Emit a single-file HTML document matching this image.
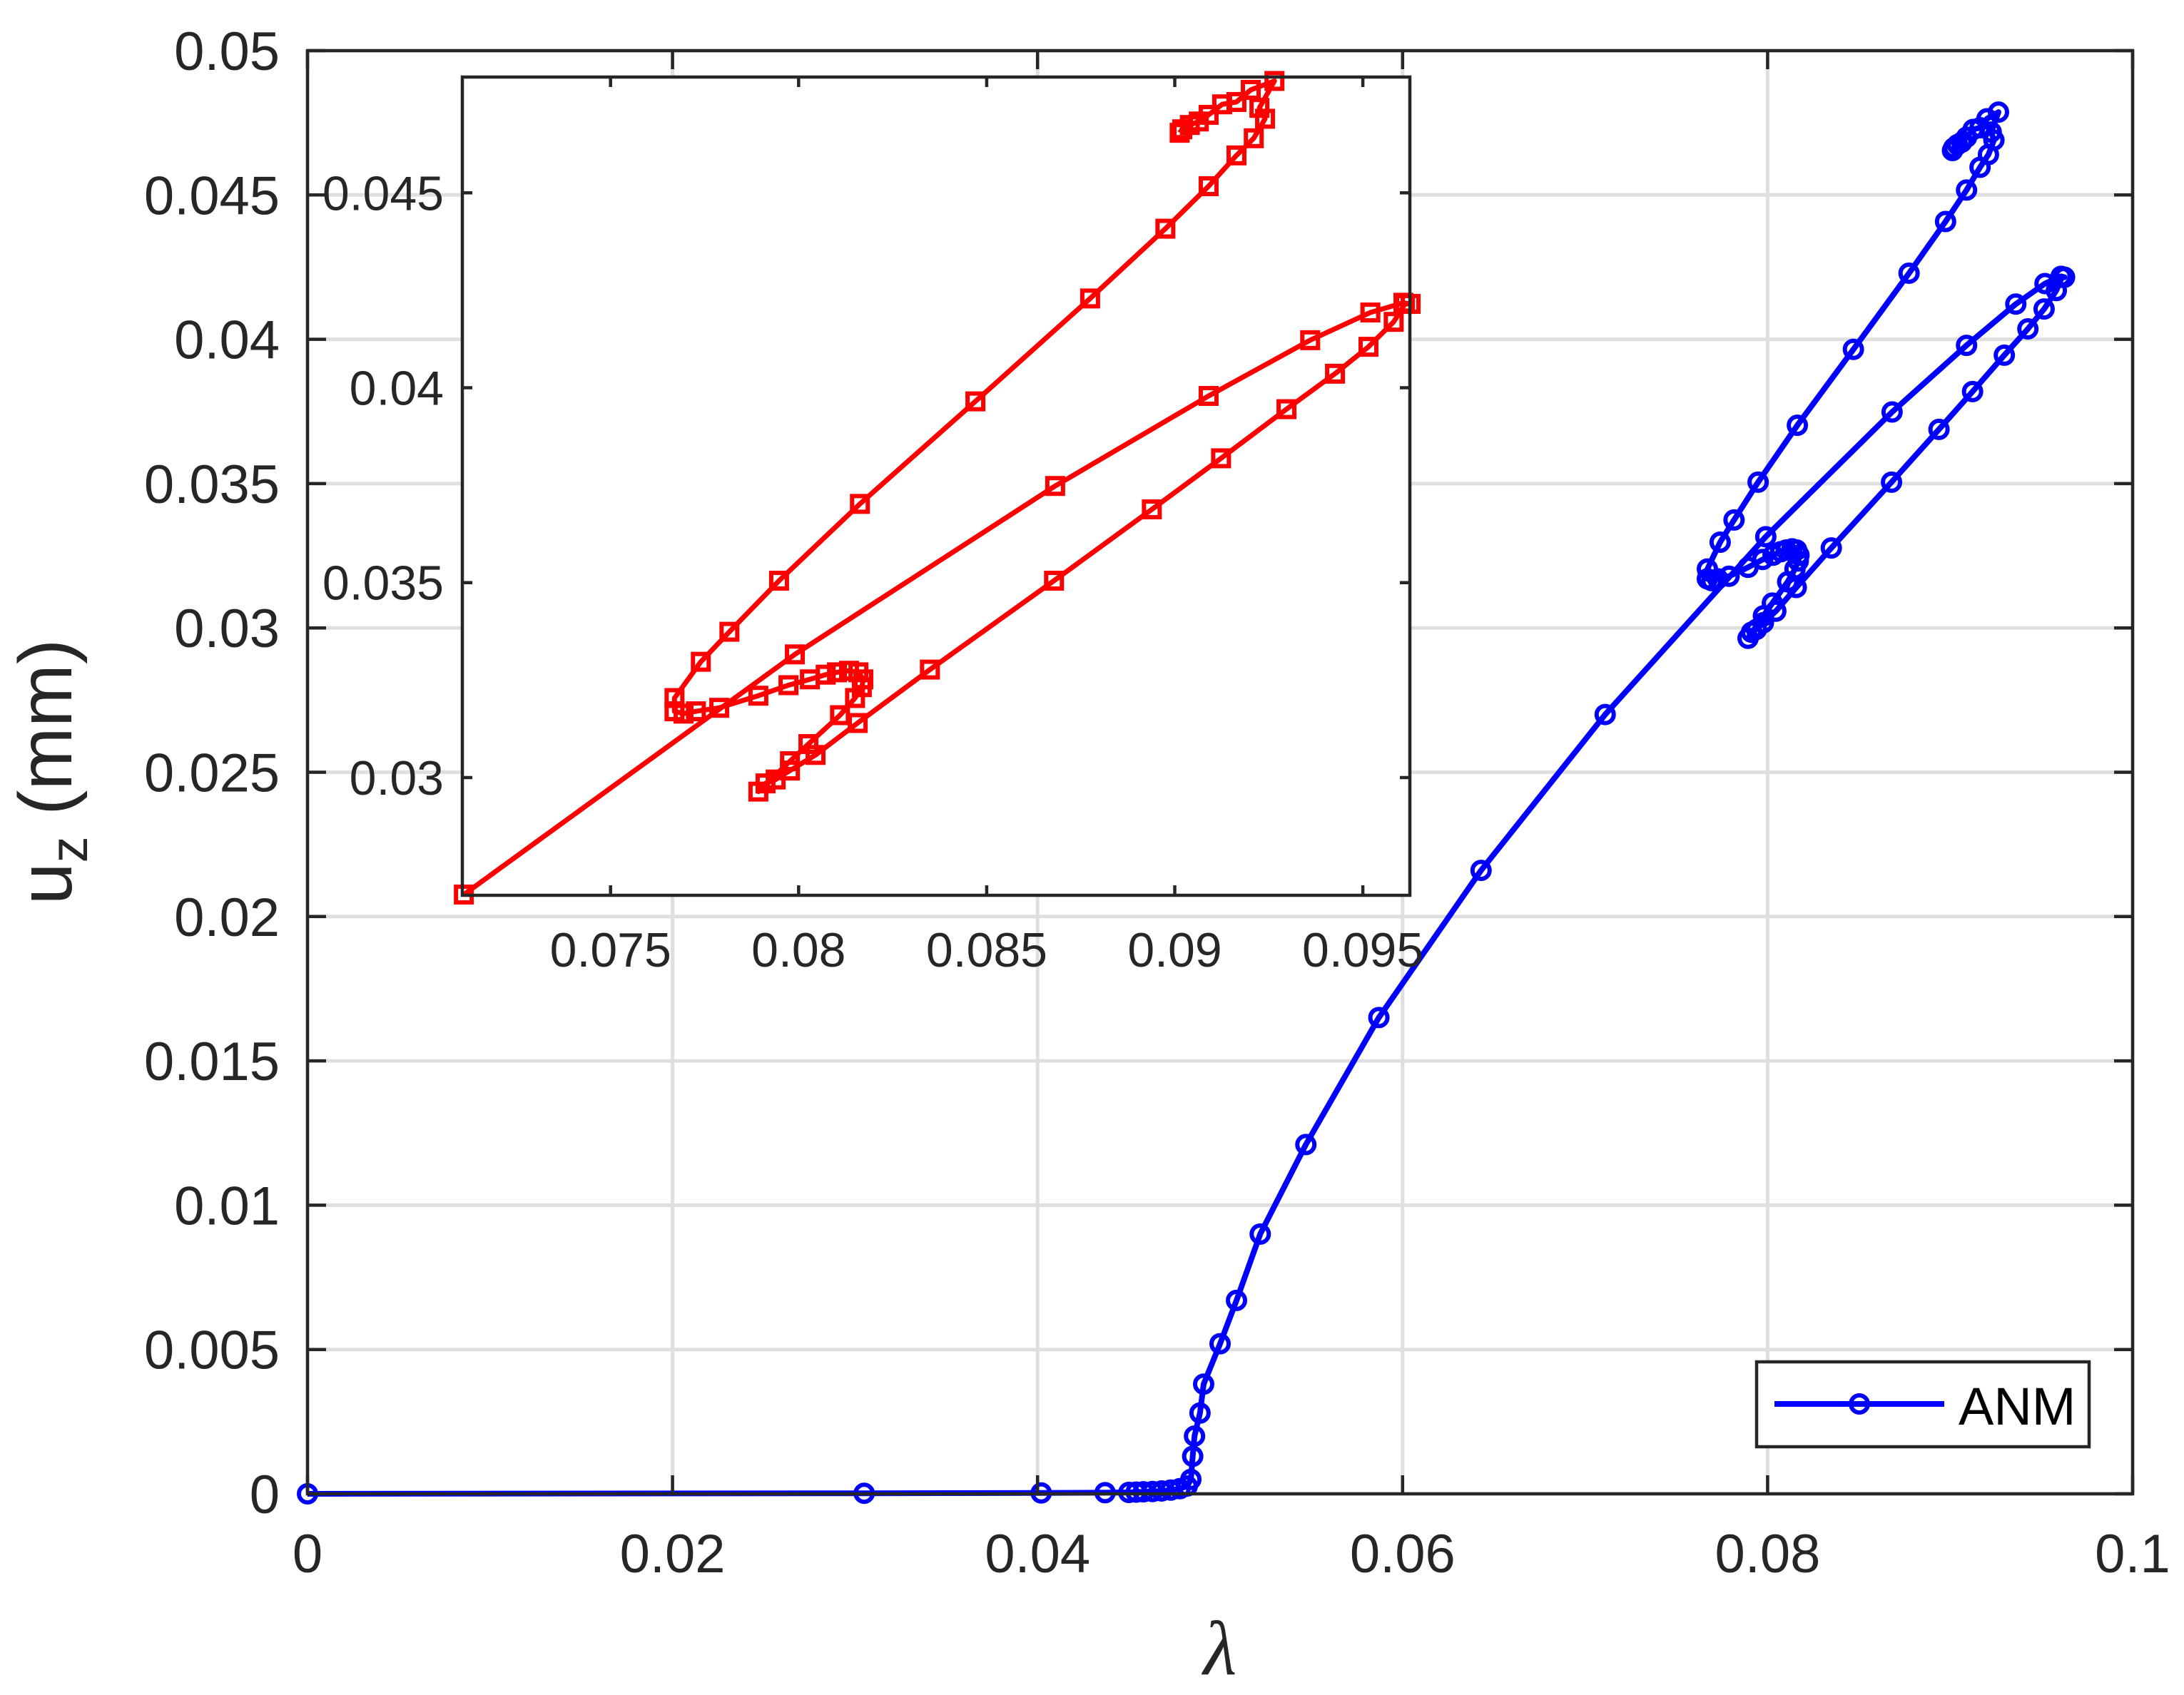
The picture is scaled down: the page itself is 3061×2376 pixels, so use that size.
<!DOCTYPE html>
<html><head><meta charset="utf-8"><style>
html,body{margin:0;padding:0;background:#fff}
svg{display:block}
text{font-family:"Liberation Sans",sans-serif;fill:#262626}
</style></head><body>
<svg id="chart" width="3061" height="2376" viewBox="0 0 3061 2376" xmlns="http://www.w3.org/2000/svg">
<rect width="3061" height="2376" fill="#fff"/>
<g id="main-grid"></g>
<g id="main-series"></g>
<g id="main-axes"></g>
<g id="inset"></g>
<g id="legend">
<rect x="2462" y="1909" width="466" height="119" fill="#fff" stroke="#262626" stroke-width="4.5"/>
<line x1="2487" y1="1968" x2="2725" y2="1968" stroke="#0000ff" stroke-width="8"/>
<circle cx="2606" cy="1968" r="12" fill="none" stroke="#0000ff" stroke-width="6"/>
<text x="2745" y="1997" font-size="74" style="fill:#000">ANM</text>
</g>
<text x="1710" y="2347" font-size="108" text-anchor="middle" style="font-family:'Liberation Serif',serif;font-style:italic">λ</text>
<text transform="translate(100,1082) rotate(-90)" font-size="106" text-anchor="middle">u<tspan font-size="74" dy="22">z</tspan><tspan dy="-22"> (mm)</tspan></text>
</svg>
<script>
const lambda=[0,0.0305,0.0402,0.0437,0.0450,0.0454,0.0458,0.0463,0.0468,0.0473,0.0478,0.0482,0.0484,0.0485,0.0486,0.0489,0.0491,0.0500,0.0509,0.0522,0.0547,0.0587,0.0643,0.0711,
0.0799,0.08682,0.0909,0.0936,0.0952,0.09608,0.09627,0.09612,0.09582,0.09515,0.09426,0.09297,0.09123,0.08939,0.08679,0.08349,0.08157,0.08045,0.07977,0.07939,0.07912,0.07893,
0.07977,0.08026,0.0811,0.0815,0.08168,0.08172,0.08159,0.08134,0.08102,0.08072,0.0803,0.07973,0.07893,0.07789,0.07727,0.07694,0.0767,0.0767,0.0774,0.07816,0.07948,0.08163,0.0847,0.08775,0.08975,0.0909,0.09164,0.0921,0.0924,0.09225,0.09265,0.09202,0.09164,0.09126,0.0909,0.09064,0.0904,0.0902,0.09013];
const uz=[0,0.00002,0.00003,0.00004,0.00005,0.00006,0.00007,0.00008,0.0001,0.00013,0.00018,0.00027,0.0005,0.0013,0.0020,0.0028,0.0038,0.0052,0.0067,0.0090,0.0121,0.0165,0.0216,0.0270,
0.03316,0.03748,0.03979,0.04122,0.04193,0.04218,0.04215,0.04215,0.04169,0.04105,0.04036,0.03945,0.03819,0.03688,0.03505,0.03277,0.0314,0.03058,0.03018,0.02995,0.02985,0.02964,
0.03042,0.03086,0.0316,0.03204,0.03232,0.03252,0.0327,0.03274,0.0327,0.03264,0.03252,0.03237,0.0321,0.03179,0.0317,0.03164,0.0317,0.03204,0.03297,0.03374,0.03505,0.03702,0.03965,0.04229,0.04408,0.04517,0.04596,0.0464,0.0469,0.04718,0.04787,0.04764,0.04733,0.04727,0.0470,0.04683,0.04674,0.04663,0.04654];
const xTicks=[0,0.02,0.04,0.06,0.08,0.1];
const xTickLabels=["0","0.02","0.04","0.06","0.08","0.1"];
const yTicks=[0,0.005,0.01,0.015,0.02,0.025,0.03,0.035,0.04,0.045,0.05];
const yTickLabels=["0","0.005","0.01","0.015","0.02","0.025","0.03","0.035","0.04","0.045","0.05"];
const insetXTicks=[0.075,0.08,0.085,0.09,0.095];
const insetXTickLabels=["0.075","0.08","0.085","0.09","0.095"];
const insetYTicks=[0.03,0.035,0.04,0.045];
const insetYTickLabels=["0.03","0.035","0.04","0.045"];
const insetLambdaMin=0.0710;

const NS="http://www.w3.org/2000/svg";
function mk(tag,attrs,parent){const e=document.createElementNS(NS,tag);for(const k in attrs)e.setAttribute(k,attrs[k]);parent.appendChild(e);return e;}
const L=431,R=2989,T=71,B=2094;
const X=v=>L+(v-0)/(0.1)*(R-L);
const Y=v=>B-(v-0)/(0.05)*(B-T);
const grid=document.getElementById('main-grid');
xTicks.forEach((t,i)=>{const g=mk('line',{x1:X(t),x2:X(t),y1:T,y2:B,stroke:'#dfdfdf','stroke-width':5},grid);

});
yTicks.forEach((t,i)=>{const g=mk('line',{x1:L,x2:R,y1:Y(t),y2:Y(t),stroke:'#dfdfdf','stroke-width':5},grid);

});
const ser=document.getElementById('main-series');
const pts=lambda.map((v,i)=>X(v)+','+Y(uz[i])).join(' ');
const pl=mk('polyline',{points:pts,fill:'none',stroke:'#0000ff','stroke-width':8,'stroke-linejoin':'round'},ser);


lambda.forEach((v,i)=>{const c=mk('circle',{cx:X(v),cy:Y(uz[i]),r:12,fill:'none',stroke:'#0000ff','stroke-width':6},ser);

});
const ax=document.getElementById('main-axes');
const box=mk('rect',{x:L,y:T,width:R-L,height:B-T,fill:'none',stroke:'#262626','stroke-width':4.5},ax);


xTicks.forEach((t,i)=>{
mk('line',{x1:X(t),x2:X(t),y1:B,y2:B-26,stroke:'#262626','stroke-width':4.5},ax);
mk('line',{x1:X(t),x2:X(t),y1:T,y2:T+26,stroke:'#262626','stroke-width':4.5},ax);
const tx=mk('text',{x:X(t),y:B+110,'font-size':76,'text-anchor':'middle'},ax);
tx.textContent=xTickLabels[i];

});
yTicks.forEach((t,i)=>{
mk('line',{x1:L,x2:L+26,y1:Y(t),y2:Y(t),stroke:'#262626','stroke-width':4.5},ax);
mk('line',{x1:R,x2:R-26,y1:Y(t),y2:Y(t),stroke:'#262626','stroke-width':4.5},ax);
const tx=mk('text',{x:392,y:Y(t)+27,'font-size':76,'text-anchor':'end'},ax);
tx.textContent=yTickLabels[i];

});
const iL=648,iR=1976,iT=108,iB=1255;
const ix0=0.07106,ix1=0.09625,iy0=0.02698,iy1=0.04797;
const IX=v=>iL+(v-ix0)/(ix1-ix0)*(iR-iL);
const IY=v=>iB-(v-iy0)/(iy1-iy0)*(iB-iT);
const ins=document.getElementById('inset');
const ibg=mk('rect',{x:iL,y:iT,width:iR-iL,height:iB-iT,fill:'#fff'},ins);


const idx=lambda.map((v,i)=>i).filter(i=>lambda[i]>=insetLambdaMin);
const ipl=mk('polyline',{points:idx.map(i=>IX(lambda[i])+','+IY(uz[i])).join(' '),fill:'none',stroke:'#ff0000','stroke-width':7,'stroke-linejoin':'round'},ins);


idx.forEach(i=>{const s=mk('rect',{x:IX(lambda[i])-11,y:IY(uz[i])-11,width:22,height:22,fill:'none',stroke:'#ff0000','stroke-width':6},ins);

});
const ibox=mk('rect',{x:iL,y:iT,width:iR-iL,height:iB-iT,fill:'none',stroke:'#262626','stroke-width':4.5},ins);


insetXTicks.forEach((t,i)=>{
mk('line',{x1:IX(t),x2:IX(t),y1:iB,y2:iB-14,stroke:'#262626','stroke-width':4.5},ins);
mk('line',{x1:IX(t),x2:IX(t),y1:iT,y2:iT+14,stroke:'#262626','stroke-width':4.5},ins);
const tx=mk('text',{x:IX(t),y:iB+100,'font-size':68,'text-anchor':'middle'},ins);
tx.textContent=insetXTickLabels[i];

});
insetYTicks.forEach((t,i)=>{
mk('line',{x1:iL,x2:iL+14,y1:IY(t),y2:IY(t),stroke:'#262626','stroke-width':4.5},ins);
mk('line',{x1:iR,x2:iR-14,y1:IY(t),y2:IY(t),stroke:'#262626','stroke-width':4.5},ins);
const tx=mk('text',{x:622,y:IY(t)+24,'font-size':68,'text-anchor':'end'},ins);
tx.textContent=insetYTickLabels[i];

});
</script>
</body></html>
